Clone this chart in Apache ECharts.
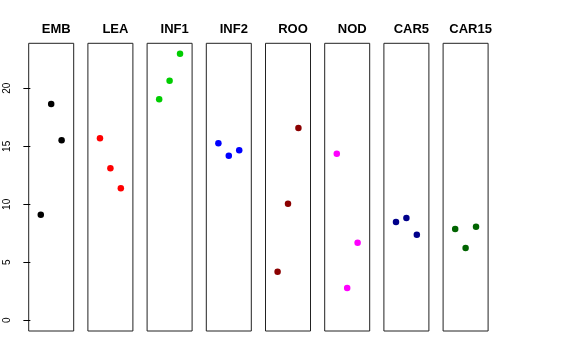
<!DOCTYPE html>
<html><head><meta charset="utf-8">
<script src="https://cdn.jsdelivr.net/npm/echarts@6/dist/echarts.min.js"></script>
<style>html,body{margin:0;padding:0;background:#fff}#c{width:576px;height:360px}</style>
</head><body><div id="c"></div>
<script>
const categories = ["EMB","LEA","INF1","INF2","ROO","NOD","CAR5","CAR15"];
const colors = ["#000000","#FF0000","#00CD00","#0000FF","#8B0000","#FF00FF","#00008B","#006400"];
const EMB = [9.10, 18.65, 15.52];
const LEA = [15.69, 13.10, 11.38];
const INF1 = [19.05, 20.66, 22.98];
const INF2 = [15.26, 14.19, 14.66];
const ROO = [4.19, 10.05, 16.58];
const NOD = [14.36, 2.78, 6.69];
const CAR5 = [8.47, 8.82, 7.38];
const CAR15 = [7.87, 6.23, 8.07];
const seriesValues = [EMB, LEA, INF1, INF2, ROO, NOD, CAR5, CAR15];
const yTicks = [0, 5, 10, 15, 20];

(function () {
const chart = echarts.init(document.getElementById('c'), null, {renderer: 'canvas'});
const grids = [], xAxes = [], yAxes = [], series = [], titles = [];
const left0 = 28.7, step = 59.2, gw = 45, gTop = 43.3, gh = 287.7;
categories.forEach((name, i) => {
  const l = left0 + step * i;
  grids.push({left: l, top: gTop, width: gw, height: gh, show: true, borderColor: '#222', borderWidth: 1, containLabel: false});
  xAxes.push({type: 'value', gridIndex: i, min: -0.16, max: 4.16, show: false});
  yAxes.push({
    type: 'value', gridIndex: i, min: -0.92, max: 23.88, show: i === 0,
    splitLine: {show: false},
    axisLine: {show: false},
    axisTick: {show: i === 0, length: 7, lineStyle: {color: '#000'}, customValues: yTicks},
    axisLabel: {show: i === 0, rotate: 90, margin: 16, fontSize: 10, color: '#000', fontFamily: 'Liberation Sans, Arial, sans-serif', customValues: yTicks}
  });
  series.push({
    type: 'scatter', xAxisIndex: i, yAxisIndex: i, symbolSize: 6.5,
    itemStyle: {color: colors[i], opacity: 1},
    data: seriesValues[i].map((v, j) => [j + 1, v]),
    silent: true, animation: false
  });
  titles.push({
    text: name, left: l + gw / 2, top: 18, textAlign: 'center',
    textStyle: {fontSize: 13, fontWeight: 'bold', color: '#000', fontFamily: 'Liberation Sans, Arial, sans-serif'}
  });
});
chart.setOption({animation: false, title: titles, grid: grids, xAxis: xAxes, yAxis: yAxes, series: series});
})();
</script></body></html>
